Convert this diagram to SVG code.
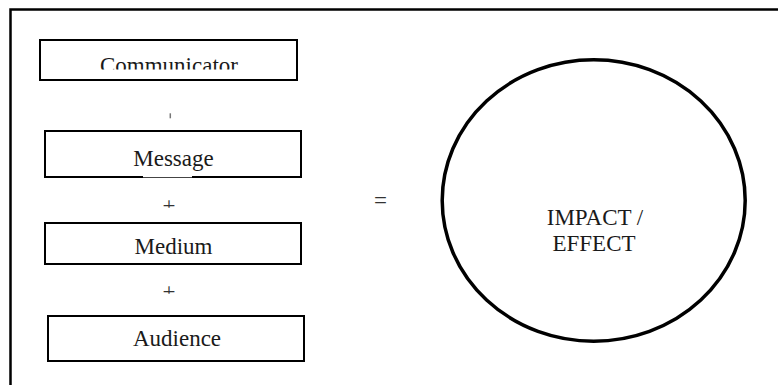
<svg xmlns="http://www.w3.org/2000/svg" width="778" height="385" viewBox="0 0 778 385">
  <style>
    .box { fill: #fff; stroke: #000; stroke-width: 2; }
    text { font-family: 'Liberation Serif', 'DejaVu Serif', 'Times New Roman', Times, serif; font-size: 23px; text-anchor: middle; }
    .lbl { fill: #1a1a1a; }
    .op { fill: #333; }
  </style>
  <defs>
    <clipPath id="clipComm"><rect x="0" y="40" width="778" height="29.5"/></clipPath>
    <clipPath id="clipPlus1"><rect x="150" y="190" width="40" height="17.8"/></clipPath>
    <clipPath id="clipPlus2"><rect x="150" y="278" width="40" height="15.8"/></clipPath>
  </defs>
  <rect width="778" height="385" fill="#fff"/>
  <rect x="10.5" y="9.5" width="820" height="420" fill="none" stroke="#000" stroke-width="2.5"/>

  <g id="communicator">
    <rect class="box" x="40" y="40" width="257" height="40"/>
    <text class="lbl" x="169" y="73" clip-path="url(#clipComm)" font-family="Liberation Serif">Communicator</text>
  </g>
  <g id="message">
    <rect x="45" y="131" width="256" height="46" fill="#fff" stroke="none"/>
    <path d="M143 177 H45 V131 H301 V177 H192" fill="none" stroke="#000" stroke-width="2"/>
    <line x1="143" y1="177.5" x2="192" y2="177.5" stroke="#444" stroke-width="1"/>
    <text class="lbl" x="173.5" y="165.5" font-family="Liberation Serif">Message</text>
  </g>
  <g id="medium">
    <rect class="box" x="45" y="223" width="256" height="41"/>
    <text class="lbl" x="173.5" y="253.5" font-family="Liberation Serif">Medium</text>
  </g>
  <g id="audience">
    <rect class="box" x="48" y="316" width="256" height="45"/>
    <text class="lbl" x="177" y="346" font-family="Liberation Serif">Audience</text>
  </g>
  <g id="impact">
    <ellipse cx="593.7" cy="200.5" rx="151.5" ry="140.7" fill="none" stroke="#000" stroke-width="3.5"/>
    <text class="lbl" x="595" y="225" font-family="Liberation Serif">IMPACT /</text>
    <text class="lbl" x="594" y="250.5" font-family="Liberation Serif">EFFECT</text>
  </g>
  <g id="connectors">
    <line x1="170.3" y1="113.3" x2="170.3" y2="118.3" stroke="#777" stroke-width="1.5"/>
    <text class="op" x="169" y="212.5" clip-path="url(#clipPlus1)" font-family="Liberation Serif">+</text>
    <text class="op" x="169" y="298.5" clip-path="url(#clipPlus2)" font-family="Liberation Serif">+</text>
    <text class="op" x="380.5" y="207.5" font-family="Liberation Serif">=</text>
  </g>
</svg>
